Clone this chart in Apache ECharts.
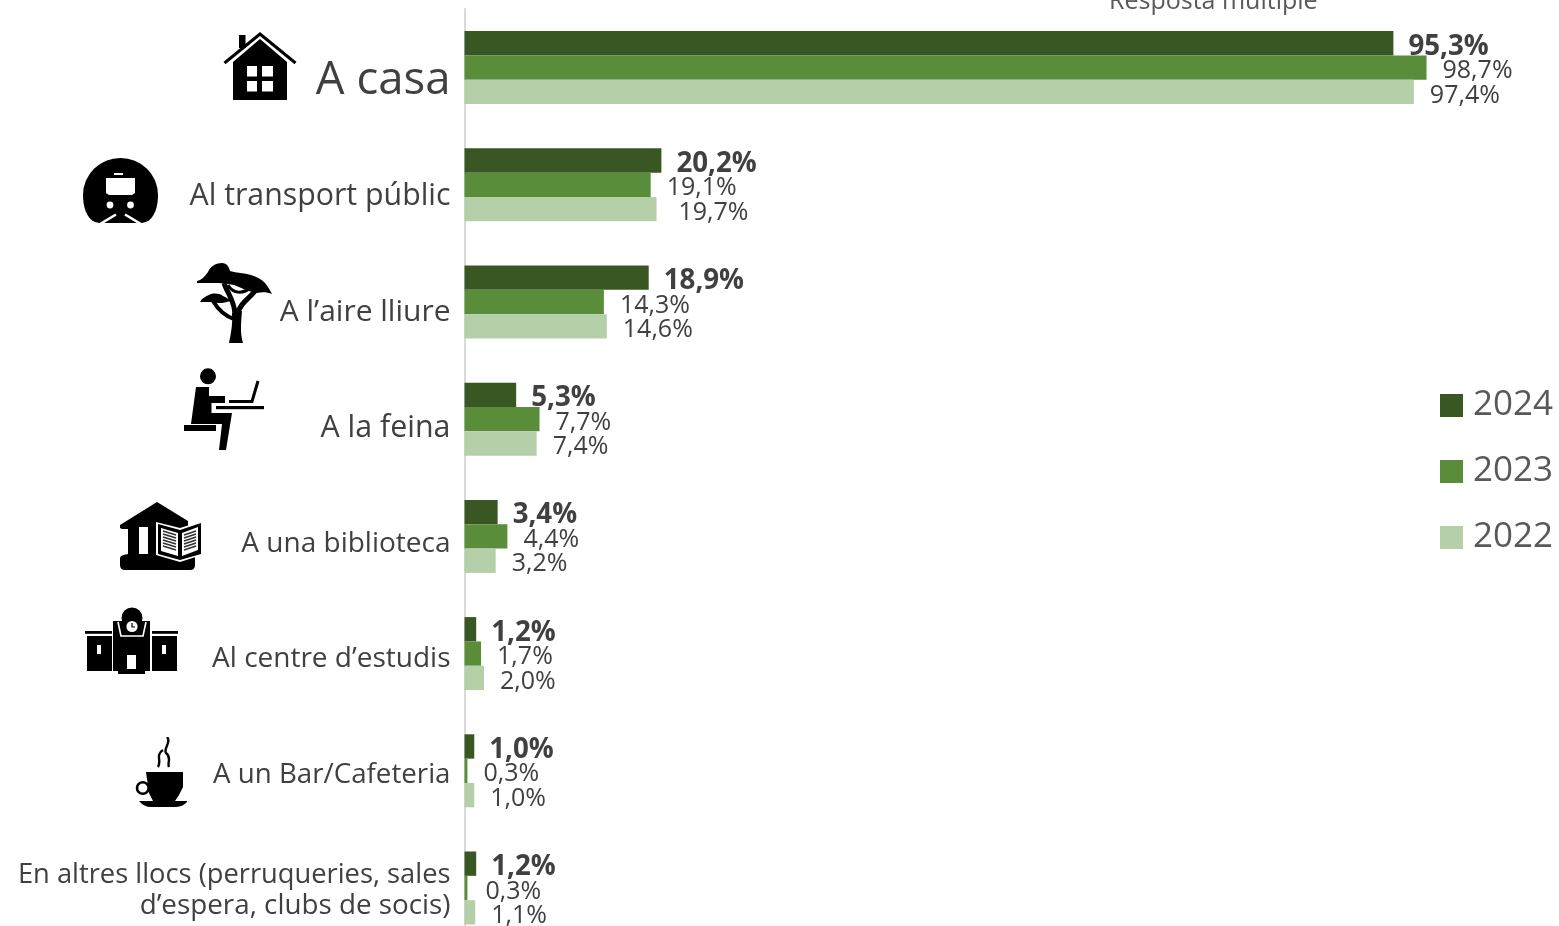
<!DOCTYPE html>
<html><head><meta charset="utf-8">
<style>html,body{margin:0;padding:0;background:#fff;overflow:hidden}#c{width:1559px;height:926px}</style>
<script src="https://cdn.jsdelivr.net/npm/echarts@6/dist/echarts.min.js"></script>
</head><body><div id="c"></div>
<script>
const categories = ["A casa","Al transport públic","A l’aire lliure","A la feina","A una biblioteca","Al centre d’estudis","A un Bar/Cafeteria","En altres llocs (perruqueries, sales\nd’espera, clubs de socis)"];
const values2024 = [95.3,20.2,18.9,5.3,3.4,1.2,1.0,1.2];
const values2023 = [98.7,19.1,14.3,7.7,4.4,1.7,0.3,0.3];
const values2022 = [97.4,19.7,14.6,7.4,3.2,2.0,1.0,1.1];
const noteText = "Resposta múltiple";

const FONT = '"Open Sans","Noto Sans",sans-serif';
const TXT = '#404040';
const W = '#fff';
const svgHouse = [74,68,`<path d="M1.5 31L37 2L72.5 31" fill="none" stroke="#000" stroke-width="3"/><rect x="16" y="3" width="6.5" height="13"/><path d="M10 30L37 7L64 30V68H10Z"/><g fill="${W}"><rect x="24" y="34" width="10" height="10.5"/><rect x="39" y="34" width="11" height="10.5"/><rect x="24" y="49" width="10" height="10.5"/><rect x="39" y="49" width="11" height="10.5"/></g>`];
const svgTrain = [75,65,`<path d="M12 64C3 60 0 48 0 37A37.5 37 0 0 1 75 37C75 48 72 60 63 64C60 65 58 65 54 65H21C17 65 15 65 12 64Z"/><g fill="${W}"><path d="M23 20H52V35L49 37H26L23 35Z"/><rect x="31" y="15" width="9" height="2"/><circle cx="27" cy="47" r="3.4"/><circle cx="47.5" cy="47" r="3.4"/></g><path d="M17 66L33 56.5M58 66L42 56.5" stroke="${W}" stroke-width="2.6" fill="none"/>`];
const svgTree = [75,80,`<path d="M0 18C5 17 8 13 11 9C13 4 18 0 25 0C30 0 32 4 33 8C40 10 47 10 54 12C60 14 64 16 68 20C71 24 73 27 75 31C70 29 65 29 60 30C54 29 48 27 42 24C35 21 28 20 20 20C12 20 5 20 0 20Z"/><path d="M3 39C5 35 9 33 12 32C16 30 22 30 26 33C30 35 32 36 34 38C27 40 21 41 15 39C11 39 7 39 3 39Z"/><path d="M32 80C34 70 36 60 35 50L45 48C44 60 43 70 46 80Z"/><path d="M38 52C38 38 30 30 27 20M41 50C43 40 52 36 58 28" fill="none" stroke="#000" stroke-width="5"/><path d="M37 56C28 53 22 48 16 38" fill="none" stroke="#000" stroke-width="4"/><path d="M31 22C36 31 46 31 53 25" fill="none" stroke="#000" stroke-width="3"/>`];
const svgWorker = [80,84,`<circle cx="24" cy="8.3" r="8"/><path d="M12 19H25V28H41V35H27.5V45H48L42 82H35L38 56H7Z"/><rect y="57" width="32" height="6"/><rect x="32" y="38" width="48" height="3.2"/><path d="M45 33.5H68L74 13" fill="none" stroke="#000" stroke-width="3"/>`];
const svgLibrary = [82,68,`<path d="M0 23L37 0L68 19V27H28V52H75V63Q75 68 70 68H5Q0 68 0 63V56Q0 53 8 52V27H2Q-1 26 0 23Z"/><rect x="19" y="25" width="9" height="27" fill="${W}"/><path d="M28 25H37V52H28Z"/><path d="M36 20L60 26L82 19V53L60 60L36 53Z" fill="${W}"/><path d="M38 22L60 28L81 21V52L60 58L38 52Z"/><path d="M41 26L58 31V54L41 49ZM62 31L78 25V48L62 54Z" fill="${W}"/><path d="M43 29L56 33M43 32L56 36M43 35L56 39M43 38L56 42M43 41L56 45M43 44L56 48M64 33L76 29M64 36L76 32M64 39L76 35M64 42L76 38M64 45L76 41M64 48L76 44" stroke="#333" stroke-width="1.6" fill="none"/>`];
const svgSchool = [93,67,`<circle cx="47" cy="11" r="10.5"/><path d="M28 14H65V64H60V67H33V64H28Z"/><path d="M33 15L36 29H58L61 15" fill="none" stroke="${W}" stroke-width="1.6"/><circle cx="47" cy="19.5" r="5.6" fill="${W}"/><path d="M47 16V20H50" stroke="#000" stroke-width="1.2" fill="none"/><rect x="42" y="48" width="9" height="14" fill="${W}"/><rect x="2" y="29" width="25" height="35"/><rect x="67" y="29" width="25" height="35"/><rect y="24" width="27" height="2.8"/><rect x="67" y="24" width="26" height="2.8"/><rect x="12" y="38" width="4" height="9" fill="${W}"/><rect x="77" y="38" width="4" height="9" fill="${W}"/>`];
const svgCoffee = [52,70,`<path d="M11 35H48V50L44 58L40 64H18L14 56Z"/><circle cx="7.8" cy="51" r="5.8" fill="none" stroke="#000" stroke-width="2.6"/><path d="M4 64H53Q48 70 41 70H16Q9 70 4 64Z"/><path d="M32 0C37 5 28 11 31 16C37 20 32 26 34 30M28 13C20 18 27 24 23 30" fill="none" stroke="#000" stroke-width="2.4"/>`];
const ICON_BOXES = [[svgHouse,223,32],[svgTrain,83,158],[svgTree,197,263],[svgWorker,184,368],[svgLibrary,120,502],[svgSchool,85,607],[svgCoffee,135,737]];
const LABEL_FONT_SIZES = [45.5,30.3,30,30.4,28,28,27.7];
const LABEL_PAD_TOPS = [27,24,20,18,16,10,8];
const LABEL_NUDGES = {'2022':{1:6}, '2023':{7:2}};

function fmt(v){ return v.toFixed(1).replace('.',',') + '%'; }
function uri(s){ return 'data:image/svg+xml;charset=utf-8,' + encodeURIComponent(`<svg xmlns="http://www.w3.org/2000/svg" width="${s[0]}" height="${s[1]}" viewBox="0 0 ${s[0]} ${s[1]}">${s[2]}</svg>`); }
function barSeries(name, data, color, bold){
  const nudges = LABEL_NUDGES[name] || {};
  return {name, type:'bar', barWidth:24.33, barGap:'0%', itemStyle:{color},
    data:data.map((v,i)=> nudges[i] ? {value:v, label:{offset:[nudges[i],3.5]}} : v),
    label:{show:true, position:'right', distance:bold?15:16, offset:[0,3.5], color:TXT, fontFamily:FONT,
      fontSize:bold?27.7:25, fontWeight:bold?'bold':'normal', formatter:p=>fmt(p.value)}};
}
const rich = {
  l1:{fontSize:27.3, fontFamily:FONT, color:TXT, lineHeight:31, padding:[6,0,0,0]},
  l2:{fontSize:27.8, fontFamily:FONT, color:TXT, lineHeight:31, padding:[6,0,0,0]}
};
LABEL_FONT_SIZES.forEach((s,i)=>{ rich['s'+i] = {fontSize:s, fontFamily:FONT, color:TXT, padding:[LABEL_PAD_TOPS[i],0,0,0]}; });
const chart = echarts.init(document.getElementById('c'), null, {width:1559, height:926});
chart.setOption({
  animation:false, backgroundColor:'#fff',
  grid:{left:464.5, top:9, width:974.7, height:937.6, outerBoundsMode:'none'},
  xAxis:{type:'value', min:0, max:100, show:false},
  yAxis:{type:'category', inverse:true, data:categories,
    axisTick:{show:false}, axisLine:{show:true, lineStyle:{color:'#d9d9d9', width:2}},
    axisLabel:{margin:14, interval:0, color:TXT, fontFamily:FONT, align:'right', rich,
      formatter:(v,i)=> v.includes('\n') ? v.split('\n').map((s,k)=>`{l${k+1}|${s}}`).join('\n') : `{s${i}|${v}}`}},
  legend:{orient:'vertical', left:1435, top:383, itemWidth:23, itemHeight:23, itemGap:31, icon:'rect',
    selectedMode:false, data:['2024','2023','2022'],
    textStyle:{fontSize:35, fontFamily:FONT, color:'#595959', padding:[0,0,0,5]}},
  graphic:[
    {type:'text', left:1109, top:-11, style:{text:noteText, font:'25px '+FONT, fill:'#595959'}},
    ...ICON_BOXES.map(b=>({type:'image', left:b[1], top:b[2], style:{image:uri(b[0]), width:b[0][0], height:b[0][1]}}))
  ],
  series:[
    barSeries('2024', values2024, '#385723', true),
    barSeries('2023', values2023, '#5a8d39', false),
    barSeries('2022', values2022, '#b5cfa8', false)
  ]
});
</script></body></html>
